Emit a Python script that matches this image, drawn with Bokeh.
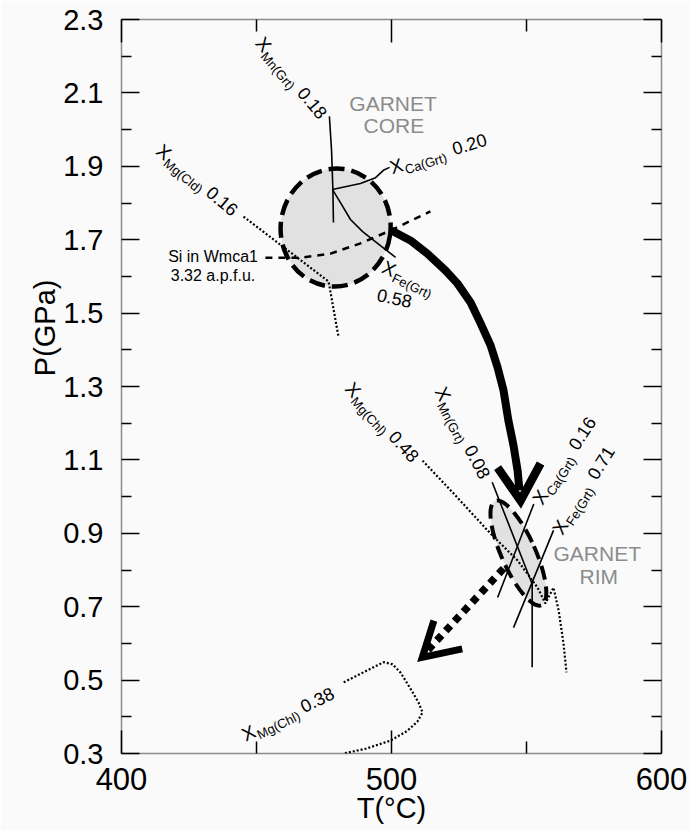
import math
from bokeh.plotting import figure
from bokeh.models import (ColumnDataSource, LinearAxis, FixedTicker, Range1d, Title,
                          CustomJSTickFormatter)
from bokeh.core.properties import value
from bokeh.embed import file_html
from bokeh.resources import INLINE

FONT = "Liberation Sans"

# ---------------- axes ----------------
T_TICKS = [400, 500, 600]
T_MINOR = [450, 550]
P_TICKS = [0.3, 0.5, 0.7, 0.9, 1.1, 1.3, 1.5, 1.7, 1.9, 2.1, 2.3]
P_MINOR = [0.4, 0.6, 0.8, 1.0, 1.2, 1.4, 1.6, 1.8, 2.0, 2.2]

# ---------------- P-T estimates (ellipses) ----------------
core_T, core_P, core_wT, core_hP, core_ang = 479.3, 1.733, 40.7, 0.322, -8
rim_T, rim_P, rim_wT, rim_hP, rim_ang = 547.0, 0.846, 12.6, 0.311, 24

# ---------------- isopleths ----------------
mn_core_T = [477.0, 477.8, 478.3, 478.5]
mn_core_P = [2.036, 1.943, 1.834, 1.747]
ca_core_T = [478.1, 488.5, 494.1, 497.0, 499.3]
ca_core_P = [1.837, 1.853, 1.869, 1.889, 1.897]
fe_core_T = [478.1, 481.1, 484.8, 489.3, 495.9, 501.5]
fe_core_P = [1.837, 1.801, 1.755, 1.722, 1.684, 1.652]
mgcld_T = [445.2, 476.7, 480.4]
mgcld_P = [1.763, 1.586, 1.434]
si_T = [453.3, 466.3, 477.4, 488.5, 499.6, 514.4]
si_P = [1.651, 1.651, 1.662, 1.690, 1.725, 1.777]
mn_rim_T = [537.3, 552.1, 552.1]
mn_rim_P = [1.039, 0.762, 0.535]
ca_rim_T = [552.7, 539.3]
ca_rim_P = [0.980, 0.725]
fe_rim_T = [560.0, 545.2]
fe_rim_P = [0.908, 0.643]
mgchl48_T = [511.5, 523.7, 536.7, 546.7, 554.1, 557.0, 560.0, 561.9, 563.7, 564.8]
mgchl48_P = [1.098, 1.003, 0.899, 0.826, 0.752, 0.709, 0.752, 0.690, 0.600, 0.521]
mgchl38_T = [482.3, 497.1, 500.4, 503.3, 507.0, 510.0, 511.5, 509.6, 505.9, 499.6, 490.4, 482.2]
mgchl38_P = [0.494, 0.549, 0.543, 0.521, 0.477, 0.439, 0.412, 0.387, 0.362, 0.335, 0.313, 0.300]

# ---------------- P-T path arrows ----------------
path_T = [500.0, 507.0, 513.3, 520.0, 524.4, 529.3, 533.0, 536.7, 539.3, 541.5, 543.3, 545.2, 546.7, 547.4]
path_P = [1.725, 1.698, 1.662, 1.616, 1.581, 1.529, 1.472, 1.412, 1.352, 1.289, 1.207, 1.139, 1.071, 1.017]
head_T = [539.3, 547.8, 555.2]
head_P = [1.079, 0.989, 1.090]
retro_T = [541.5, 512.6]
retro_P = [0.804, 0.575]
rhead_T = [515.7, 511.4, 526.2]
rhead_P = [0.662, 0.562, 0.585]

# ---------------- isopleth labels ----------------
lab_T = [451.1, 413.9, 499.6, 496.9, 484.2, 518.0, 553.9, 561.3, 445.0]
lab_P = [2.245, 1.950, 1.895, 1.628, 1.304, 1.295, 0.984, 0.902, 0.348]
lab_sub = ["Mn(Grt)", "Mg(Cld)", "Ca(Grt)", "Fe(Grt)", "Mg(Chl)", "Mn(Grt)", "Ca(Grt)", "Fe(Grt)", "Mg(Chl)"]
lab_val = ["0.18", "0.16", "0.20", "", "0.48", "0.08", "0.16", "0.71", "0.38"]
lab_ang = [-50, -40, 17, -25, -48, -63, 57, 58, 26]
fe058_T, fe058_P, fe058_ang = 501.1, 1.541, -12

garnet_T = [500.6, 500.9, 576.2, 576.8]
garnet_P = [2.072, 2.012, 0.844, 0.783]
garnet_txt = ["GARNET", "CORE", "GARNET", "RIM"]

si_lab_T = [433.9, 433.9]
si_lab_P = [1.655, 1.602]
si_lab_txt = ["Si in Wmca1", "3.32 a.p.f.u."]

p = figure(width=690, height=830, x_range=Range1d(400, 600), y_range=Range1d(0.3, 2.3),
           output_backend="svg", toolbar_location=None, x_axis_type=None, y_axis_type=None,
           min_border_left=121, min_border_right=29, min_border_top=19, min_border_bottom=77)
p.background_fill_color = "#fafafa"
p.border_fill_color = "#fafafa"
p.outline_line_color = "#8c8c8c"
p.outline_line_width = 1.5


def add_axis(side, ticks, minor, maj_in, min_in, labels, fs, standoff):
    ax = LinearAxis(ticker=FixedTicker(ticks=ticks, minor_ticks=minor))
    ax.axis_line_color = None
    ax.major_tick_in = maj_in
    ax.major_tick_out = 0
    ax.minor_tick_in = min_in
    ax.minor_tick_out = 0
    ax.major_tick_line_color = "black"
    ax.minor_tick_line_color = "black"
    ax.major_tick_line_width = 1.5
    ax.minor_tick_line_width = 1.5
    if labels:
        ax.major_label_text_font = FONT
        ax.major_label_text_font_size = fs
        ax.major_label_text_color = "black"
        ax.major_label_standoff = standoff
    else:
        ax.formatter = CustomJSTickFormatter(code="return ''")
        ax.major_label_text_font_size = "1px"
        ax.major_label_standoff = 0
    p.add_layout(ax, side)
    return ax


xb = add_axis("below", T_TICKS, T_MINOR, 23, 12, True, "31px", 14)
xb.axis_label = "T(°C)"
xb.axis_label_text_font = FONT
xb.axis_label_text_font_size = "29px"
xb.axis_label_text_font_style = "normal"
xb.axis_label_text_color = "black"
xb.axis_label_standoff = -1
add_axis("above", T_TICKS, T_MINOR, 23, 12, False, "1px", 0)
add_axis("left", P_TICKS, P_MINOR, 18, 10, True, "29px", 18)
add_axis("right", P_TICKS, P_MINOR, 18, 10, False, "1px", 0)

p.add_layout(Title(text="P(GPa)", align="right", offset=260, text_font=FONT,
                   text_font_size="29px", text_font_style="normal", text_color="black",
                   standoff=0), "left")

# ellipse fills
p.ellipse(x=[core_T], y=[core_P], width=[core_wT], height=[core_hP], angle=[core_ang],
          angle_units="deg", fill_color="#e1e1e1", line_color=None)
p.ellipse(x=[rim_T], y=[rim_P], width=[rim_wT], height=[rim_hP], angle=[rim_ang],
          angle_units="deg", fill_color="#e1e1e1", line_color=None)

# solid isopleths
for xs, ys in [(mn_core_T, mn_core_P), (ca_core_T, ca_core_P), (fe_core_T, fe_core_P),
               (mn_rim_T, mn_rim_P), (ca_rim_T, ca_rim_P), (fe_rim_T, fe_rim_P)]:
    p.line(xs, ys, line_color="black", line_width=1.6)

# dotted isopleths
for xs, ys in [(mgcld_T, mgcld_P), (mgchl48_T, mgchl48_P), (mgchl38_T, mgchl38_P)]:
    p.line(xs, ys, line_color="black", line_width=2.2, line_dash="2 2")

# Si in white mica (dashed)
p.line(si_T, si_P, line_color="black", line_width=2.5, line_dash="7 6")

# ellipse outlines
p.ellipse(x=[core_T], y=[core_P], width=[core_wT], height=[core_hP], angle=[core_ang],
          angle_units="deg", fill_color=None, line_color="black", line_width=4.5, line_dash="16 7")
p.ellipse(x=[rim_T], y=[rim_P], width=[rim_wT], height=[rim_hP], angle=[rim_ang],
          angle_units="deg", fill_color=None, line_color="black", line_width=4, line_dash="14 7")

# prograde path arrow
p.line(path_T, path_P, line_color="black", line_width=8)
p.line(head_T, head_P, line_color="black", line_width=8.5, line_join="miter")
# retrograde path (dotted)
p.line(retro_T, retro_P, line_color="black", line_width=7.5, line_dash="7 6")
p.line(rhead_T, rhead_P, line_color="black", line_width=7, line_join="miter")

# isopleth labels: X + subscript + value, along a rotated baseline
X_src = dict(x=[], y=[], t=[], a=[], xo=[], yo=[])
S_src = dict(x=[], y=[], t=[], a=[], xo=[], yo=[])
V_src = dict(x=[], y=[], t=[], a=[], xo=[], yo=[])


def put(src, x, y, t, th, along, perp):
    ux, uy = math.cos(th), -math.sin(th)
    dx, dy = math.sin(th), math.cos(th)
    src["x"].append(x)
    src["y"].append(y)
    src["t"].append(t)
    src["a"].append(th)
    src["xo"].append(along * ux + perp * dx)
    src["yo"].append(along * uy + perp * dy)


for x, y, s, v, a in zip(lab_T, lab_P, lab_sub, lab_val, lab_ang):
    th = math.radians(a)
    put(X_src, x, y, "X", th, 0, 0)
    put(S_src, x, y, s, th, 13.5, 6)
    if v:
        put(V_src, x, y, v, th, 65, 0)

for src, fs in [(X_src, "19px"), (S_src, "13px"), (V_src, "18px")]:
    p.text(x="x", y="y", text="t", angle="a", x_offset="xo", y_offset="yo",
           source=ColumnDataSource(src), text_font=value(FONT), text_font_size=fs,
           text_align="left", text_baseline="middle", text_color="black")

p.text(x=[fe058_T], y=[fe058_P], text=["0.58"], angle=[math.radians(fe058_ang)],
       text_font=value(FONT), text_font_size="18px", text_align="center",
       text_baseline="middle", text_color="black")

p.text(x=garnet_T, y=garnet_P, text=garnet_txt, text_font=value(FONT), text_font_size="21px",
       text_align="center", text_baseline="middle", text_color="#8c8c8c")

p.text(x=si_lab_T, y=si_lab_P, text=si_lab_txt, text_font=value(FONT), text_font_size="16px",
       text_align="center", text_baseline="middle", text_color="black")

open("out.html", "w").write(file_html(p, INLINE))
